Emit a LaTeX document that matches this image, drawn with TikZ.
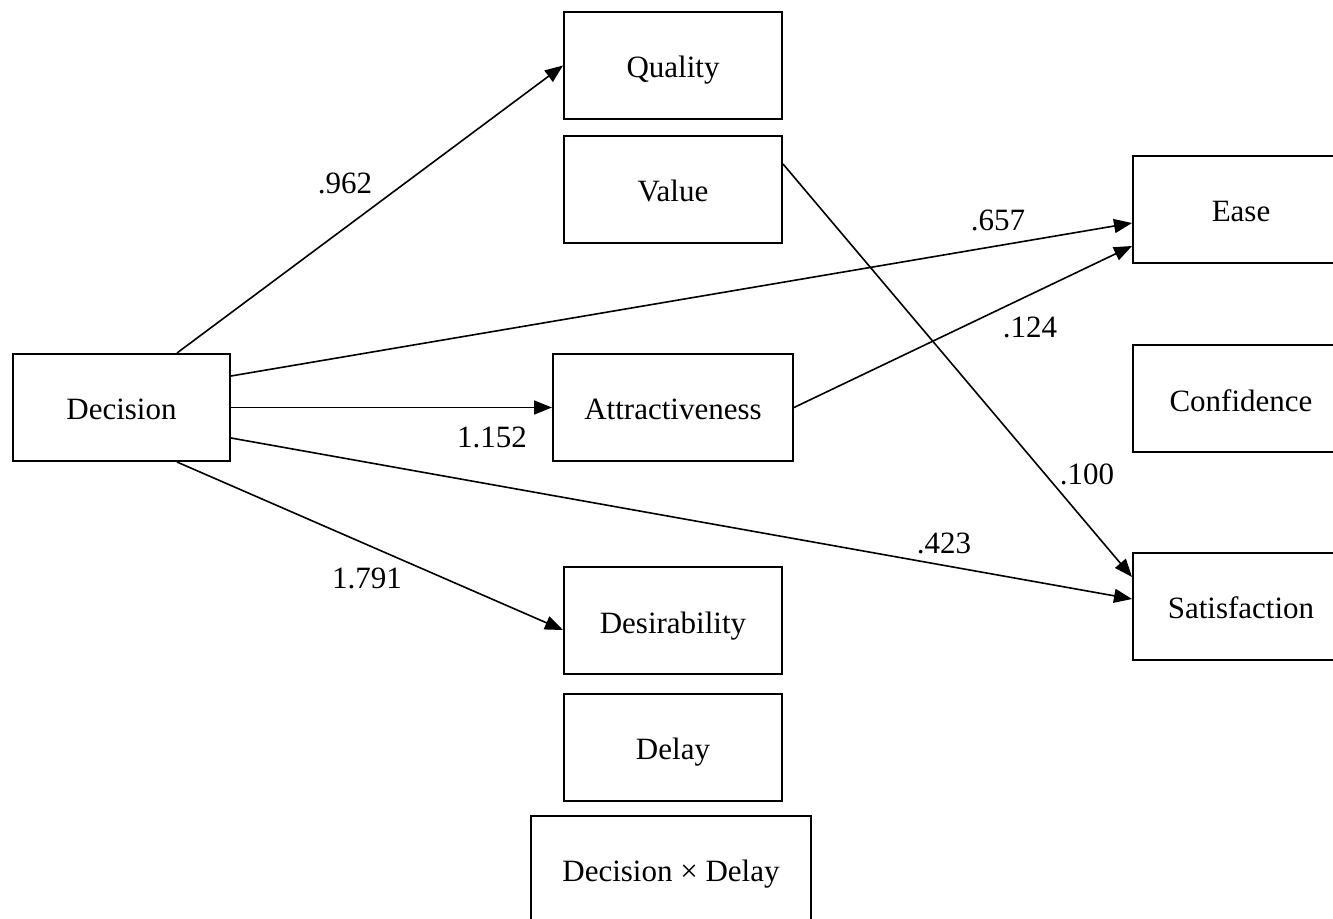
\documentclass[tikz,border=0pt]{standalone}
\usepackage{fontspec}
\setmainfont{Liberation Serif}
\usetikzlibrary{calc,arrows.meta}
\begin{document}
\begin{tikzpicture}[x=0.5pt,y=-0.5pt,
  box/.style={draw, line width=1pt, minimum height=53.5pt, inner sep=0pt, text height=13pt, text depth=0.5pt, font=\fontsize{15.5}{18}\selectfont},
  lbl/.style={inner sep=0pt, font=\fontsize{15.5}{18}\selectfont},
  conn/.style={line width=0.8pt, -{Triangle[length=9pt,width=7pt]}}]
\clip (0,0) rectangle (1333,919);
\useasboundingbox (0,0) rectangle (1333,919);
\node[box, minimum width=109pt] (qual) at (673,65.5) {Quality};
\node[box, minimum width=109pt] (val) at (673,189.5) {Value};
\node[box, minimum width=108.5pt] (dec) at (121.5,407.5) {Decision};
\node[box, minimum width=120pt] (attr) at (673,407.5) {Attractiveness};
\node[box, minimum width=108pt] (ease) at (1241,209.5) {Ease};
\node[box, minimum width=108pt] (conf) at (1241,399) {Confidence};
\node[box, minimum width=108pt] (sat) at (1241,606) {Satisfaction};
\node[box, minimum width=109pt] (des) at (673,620.5) {Desirability};
\node[box, minimum width=109pt] (delay) at (673,747) {Delay};
\node[box, minimum width=140pt] (dxd) at (671,869) {Decision × Delay};

\draw[conn] ($(dec.north)+(55.5,0)$) -- (qual.west);
\draw[conn] ($(dec.east)+(0,-31.5)$) -- ($(ease.west)+(0,13.5)$);
\draw[conn] (dec.east) -- (attr.west);
\draw[conn] ($(dec.east)+(0,30.5)$) -- ($(sat.west)+(0,-7)$);
\draw[conn] ($(dec.south)+(55.5,0)$) -- ($(des.west)+(0,9.5)$);
\draw[conn] (attr.east) -- ($(ease.west)+(0,36.5)$);
\draw[conn] ($(val.east)+(0,-25.5)$) -- ($(sat.west)+(0,-29)$);

\node[lbl] (l1) at (345,183) {.962};
\node[lbl] (l2) at (998,220) {.657};
\node[lbl] (l3) at (492,437) {1.152};
\node[lbl] (l4) at (944,543) {.423};
\node[lbl] (l5) at (367,578) {1.791};
\node[lbl] (l6) at (1030,327) {.124};
\node[lbl] (l7) at (1087,474) {.100};
\end{tikzpicture}
\end{document}
